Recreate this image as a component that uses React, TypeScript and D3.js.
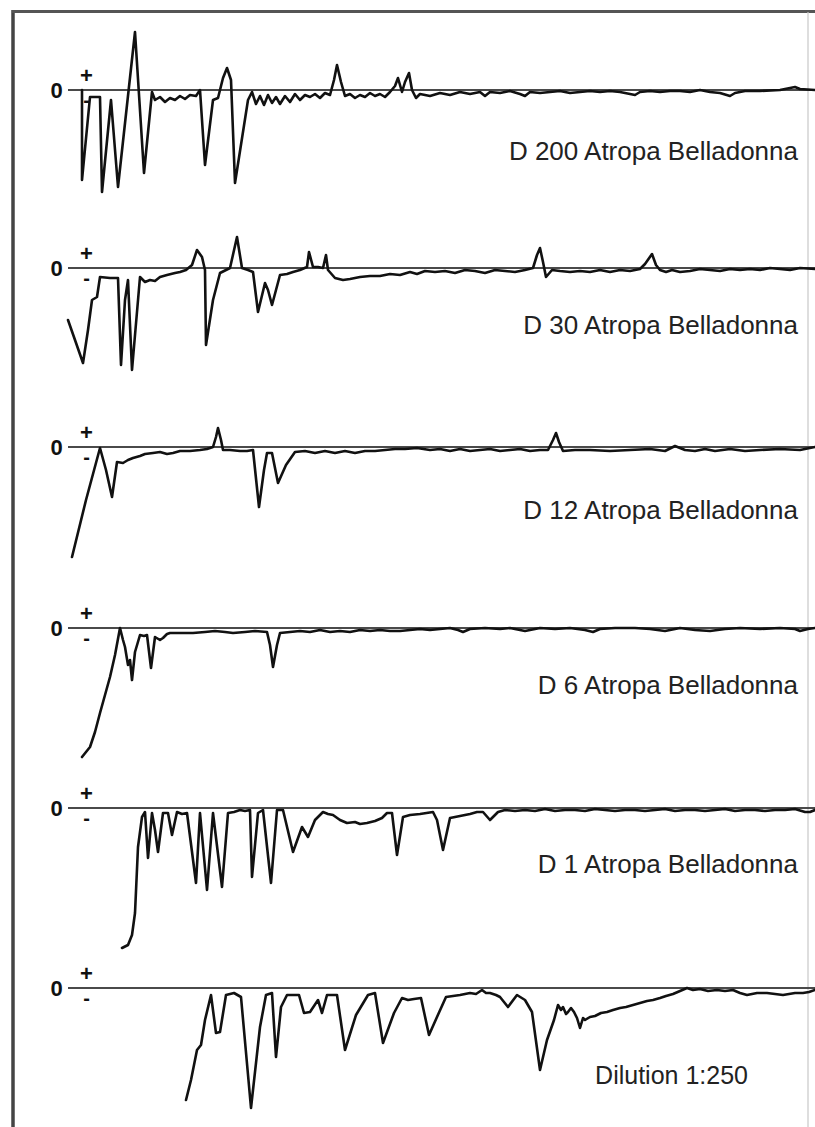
import React from "react";
import * as d3 from "d3";

type Pt = [number, number];

// Time axis units (arbitrary) and signal deviation from zero (positive up)
const panelLabels = [
  "D 200 Atropa Belladonna",
  "D 30 Atropa Belladonna",
  "D 12 Atropa Belladonna",
  "D 6 Atropa Belladonna",
  "D 1 Atropa Belladonna",
  "Dilution 1:250",
];

const d200: Pt[] = [
  [14, 0], [14, -90], [22, -7], [32, -7], [34, -102], [43, -10], [50, -97], [67, 58], [76, -83],
  [84, -2], [87, -10], [92, -7], [97, -12], [102, -8], [107, -10], [112, -6], [117, -9], [122, -5],
  [128, -6], [132, 0], [137, -75], [145, -10], [150, -8], [155, 12], [159, 22], [163, 10], [167, -93],
  [180, -10], [184, -2], [188, -14], [192, -6], [196, -15], [200, -5], [204, -13], [208, -7], [212, -14],
  [217, -6], [222, -12], [227, -4], [232, -10], [237, -5], [242, -7], [247, -4], [252, -8], [257, -3],
  [262, -5], [266, 10], [269, 25], [273, 8], [277, -6], [282, -4], [287, -8], [292, -5], [297, -7],
  [302, -3], [307, -6], [312, -4], [317, -7], [322, -2], [327, 4], [330, 12], [334, -2], [337, 8],
  [341, 17], [344, 0], [348, -8], [352, -4], [362, -6], [372, -3], [382, -5], [392, -2], [402, -4],
  [412, -2], [417, -6], [422, -2], [432, -3], [442, -1], [452, -4], [457, -6], [462, -2], [472, -3],
  [482, -2], [492, -1], [502, -3], [512, -2], [522, -1], [532, -2], [542, -1], [552, -2], [562, -4],
  [567, -5], [572, -2], [582, -1], [592, -2], [602, -1], [612, -1], [622, -2], [632, 0], [642, -2],
  [652, -3], [662, -6], [667, -3], [677, -1], [692, -1], [712, 0], [727, 3], [732, 1], [747, 0],
];

const d30: Pt[] = [
  [0, -52], [7, -72], [15, -95], [20, -62], [24, -32], [29, -29], [32, -9], [42, -10], [50, -10],
  [53, -97], [57, -32], [60, -12], [64, -102], [72, -9], [77, -14], [82, -12], [87, -13], [92, -9],
  [99, -7], [107, -5], [112, -4], [118, -2], [124, 3], [129, 18], [134, 11], [137, -2], [138, -77],
  [145, -32], [152, -5], [162, 0], [169, 31], [174, 0], [180, -2], [185, -4], [190, -44], [197, -15],
  [200, -22], [204, -37], [212, -7], [219, -6], [225, -4], [232, -2], [239, 1], [241, 16], [245, 1],
  [250, 1], [255, 0], [258, 13], [260, -2], [267, -10], [275, -12], [282, -11], [292, -9], [302, -8],
  [312, -8], [322, -6], [332, -7], [342, -4], [349, -6], [357, -3], [367, -4], [377, -3], [387, -5],
  [397, -2], [407, -3], [417, -5], [427, -2], [437, -3], [447, -4], [457, -2], [465, 0], [469, 13],
  [472, 20], [475, 6], [478, -9], [484, -2], [492, -3], [502, -4], [512, -3], [522, -4], [532, -2],
  [542, -4], [552, -2], [562, -3], [572, -1], [577, 4], [584, 14], [588, 3], [592, -2], [598, -4],
  [604, -2], [612, -4], [622, -3], [632, -1], [642, -2], [652, -3], [662, -1], [672, -2], [682, -1],
  [692, -2], [702, 0], [712, -1], [722, -2], [732, 0], [747, -1],
];

const d12: Pt[] = [
  [4, -110], [18, -53], [32, -1], [38, -23], [44, -50], [49, -15], [55, -16], [60, -13], [65, -11],
  [72, -9], [77, -7], [85, -6], [92, -5], [99, -7], [105, -6], [112, -4], [122, -4], [132, -3],
  [139, -2], [145, 0], [148, 10], [150, 19], [153, 7], [155, -3], [162, -3], [172, -4], [179, -4],
  [185, -3], [191, -60], [196, -23], [199, -6], [204, -6], [210, -36], [218, -18], [227, -5], [237, -4],
  [247, -6], [257, -4], [267, -6], [277, -4], [287, -6], [297, -4], [307, -4], [317, -3], [327, -2],
  [337, -2], [349, -1], [362, -3], [372, -2], [382, -4], [392, -2], [402, -4], [412, -3], [422, -2],
  [432, -4], [442, -3], [452, -2], [462, -4], [472, -3], [480, -3], [485, 7], [488, 14], [491, 5],
  [495, -4], [507, -3], [522, -3], [542, -4], [562, -3], [582, -2], [597, -4], [607, 1], [617, -3],
  [627, -4], [637, -2], [647, -4], [662, -2], [677, -4], [692, -3], [712, -2], [732, -3], [747, 0],
];

const d6: Pt[] = [
  [14, -129], [18, -124], [22, -119], [27, -104], [32, -85], [37, -67], [42, -49], [47, -27], [52, 0],
  [55, -12], [57, -19], [60, -37], [62, -32], [64, -52], [67, -24], [72, -7], [76, -8], [79, -7],
  [83, -40], [87, -9], [92, -12], [95, -10], [99, -6], [102, -5], [112, -5], [125, -5], [137, -4],
  [147, -3], [157, -4], [165, -5], [177, -4], [187, -3], [199, -4], [202, -17], [205, -39], [209, -17],
  [212, -5], [222, -4], [232, -3], [242, -4], [252, -2], [262, -4], [272, -3], [282, -4], [292, -2],
  [302, -3], [312, -2], [322, -3], [332, -3], [342, -2], [352, -1], [362, -2], [372, -1], [382, 0],
  [390, -2], [395, -4], [402, -1], [417, 0], [432, -1], [442, 0], [457, -3], [472, 0], [487, -1],
  [502, 0], [517, -2], [525, -4], [532, -1], [547, 0], [567, 0], [582, -1], [597, -3], [612, 0],
  [627, -2], [642, -3], [657, -1], [672, 0], [692, -1], [712, 0], [727, -1], [732, -3], [740, -1],
  [747, 0],
];

const d1: Pt[] = [
  [54, -140], [60, -137], [64, -127], [67, -105], [70, -39], [74, -9], [77, -4], [80, -50], [84, -5],
  [87, -22], [90, -44], [95, -5], [100, -5], [104, -27], [109, -4], [114, -6], [119, -5], [128, -75],
  [132, -5], [139, -82], [145, -5], [154, -79], [160, -5], [166, -4], [172, -2], [177, -3], [182, -2],
  [184, -69], [190, -5], [195, -2], [203, -75], [209, -2], [215, -2], [225, -44], [234, -19], [240, -29],
  [247, -12], [255, -4], [260, -6], [265, -7], [272, -12], [279, -15], [287, -14], [292, -16], [299, -15],
  [307, -13], [314, -10], [319, -5], [324, -5], [329, -47], [335, -9], [342, -7], [352, -6], [365, -4],
  [369, -12], [375, -42], [382, -10], [392, -8], [402, -6], [409, -4], [415, -4], [422, -12], [430, -4],
  [437, -2], [447, -3], [457, -2], [467, -3], [477, -1], [487, -3], [497, -2], [507, -2], [517, -3],
  [527, -1], [537, -2], [547, -3], [557, -2], [567, -2], [577, -3], [587, -2], [597, -1], [607, -3],
  [617, -2], [627, -2], [637, -3], [647, -2], [657, -1], [667, -3], [677, -2], [687, -2], [697, -3],
  [707, -2], [717, -2], [727, -1], [737, -4], [742, -4], [747, -2],
];

const dilution: Pt[] = [
  [118, -112], [123, -92], [129, -62], [133, -57], [137, -32], [143, -7], [148, -45], [152, -44],
  [158, -7], [166, -5], [173, -9], [183, -120], [192, -39], [198, -7], [204, -5], [208, -69], [213, -19],
  [219, -7], [231, -7], [236, -25], [242, -24], [250, -12], [254, -25], [259, -7], [269, -7], [277, -62],
  [288, -27], [300, -7], [307, -5], [315, -55], [326, -25], [334, -10], [340, -12], [346, -11], [353, -10],
  [361, -47], [369, -29], [378, -9], [392, -7], [402, -5], [408, -6], [414, -2], [418, -5], [422, -5],
  [428, -7], [432, -9], [440, -19], [449, -7], [457, -12], [464, -24], [472, -82], [479, -52], [486, -32],
  [490, -17], [493, -22], [495, -19], [498, -26], [500, -24], [503, -20], [506, -24], [509, -30],
  [512, -40], [515, -30], [517, -32], [522, -29], [527, -28], [533, -25], [539, -24], [545, -22],
  [552, -20], [558, -19], [565, -17], [572, -15], [579, -13], [585, -12], [592, -10], [598, -8],
  [605, -6], [612, -3], [619, 0], [625, -2], [632, -1], [640, -3], [649, -2], [657, -3], [665, -2],
  [672, -5], [679, -7], [684, -6], [689, -5], [699, -5], [707, -6], [715, -7], [721, -6], [727, -5],
  [735, -5], [741, -4], [747, -2],
];

const series: Pt[][] = [d200, d30, d12, d6, d1, dilution];

// layout
const W = 815;
const H = 1127;
const zeroY = [90, 268, 447, 628, 808, 988];
const labelY = [160, 334, 519, 694, 873, 1084];
const labelEnd = [798, 798, 798, 798, 798, 748];

export default function App() {
  const x = d3.scaleLinear().domain([0, 747]).range([68, 815]);

  return (
    <svg
      width={W}
      height={H}
      style={{ position: "absolute", left: 0, top: 0, background: "#fff" }}
      fontFamily="'Liberation Sans', Arial, sans-serif"
    >
      <rect x={0} y={0} width={W} height={H} fill="#fff" />
      {/* frame */}
      <line x1={13} x2={13} y1={10} y2={H} stroke="#444" strokeWidth={3.5} />
      <line x1={12} x2={W} y1={11.5} y2={11.5} stroke="#555" strokeWidth={3} />
      <line x1={808} x2={808} y1={12} y2={H} stroke="#c8c8c8" strokeWidth={1.2} />

      {series.map((data, i) => {
        const base = zeroY[i];
        const y = d3.scaleLinear().domain([-100, 100]).range([base + 100, base - 100]);
        const line = d3
          .line<Pt>()
          .x((d) => x(d[0]))
          .y((d) => y(d[1]));
        return (
          <g key={i}>
            <line x1={68} x2={W} y1={y(0)} y2={y(0)} stroke="#4a4a4a" strokeWidth={2} />
            <text
              x={56.5}
              y={y(0)}
              dy="0.36em"
              textAnchor="middle"
              fontSize={22}
              fontWeight="bold"
              fill="#111"
            >
              0
            </text>
            <text
              x={86.5}
              y={y(0) - 15}
              dy="0.36em"
              textAnchor="middle"
              fontSize={22}
              fontWeight="bold"
              fill="#111"
            >
              +
            </text>
            <text
              x={86.5}
              y={y(0) + 11}
              dy="0.3em"
              textAnchor="middle"
              fontSize={20}
              fontWeight="bold"
              fill="#111"
            >
              -
            </text>
            <path
              d={line(data) || ""}
              fill="none"
              stroke="#111"
              strokeWidth={2.6}
              strokeLinejoin="round"
              strokeLinecap="round"
            />
            <text
              x={labelEnd[i]}
              y={labelY[i]}
              textAnchor="end"
              fontSize={i === 5 ? 25 : 26}
              fill="#222"
            >
              {panelLabels[i]}
            </text>
          </g>
        );
      })}
    </svg>
  );
}
